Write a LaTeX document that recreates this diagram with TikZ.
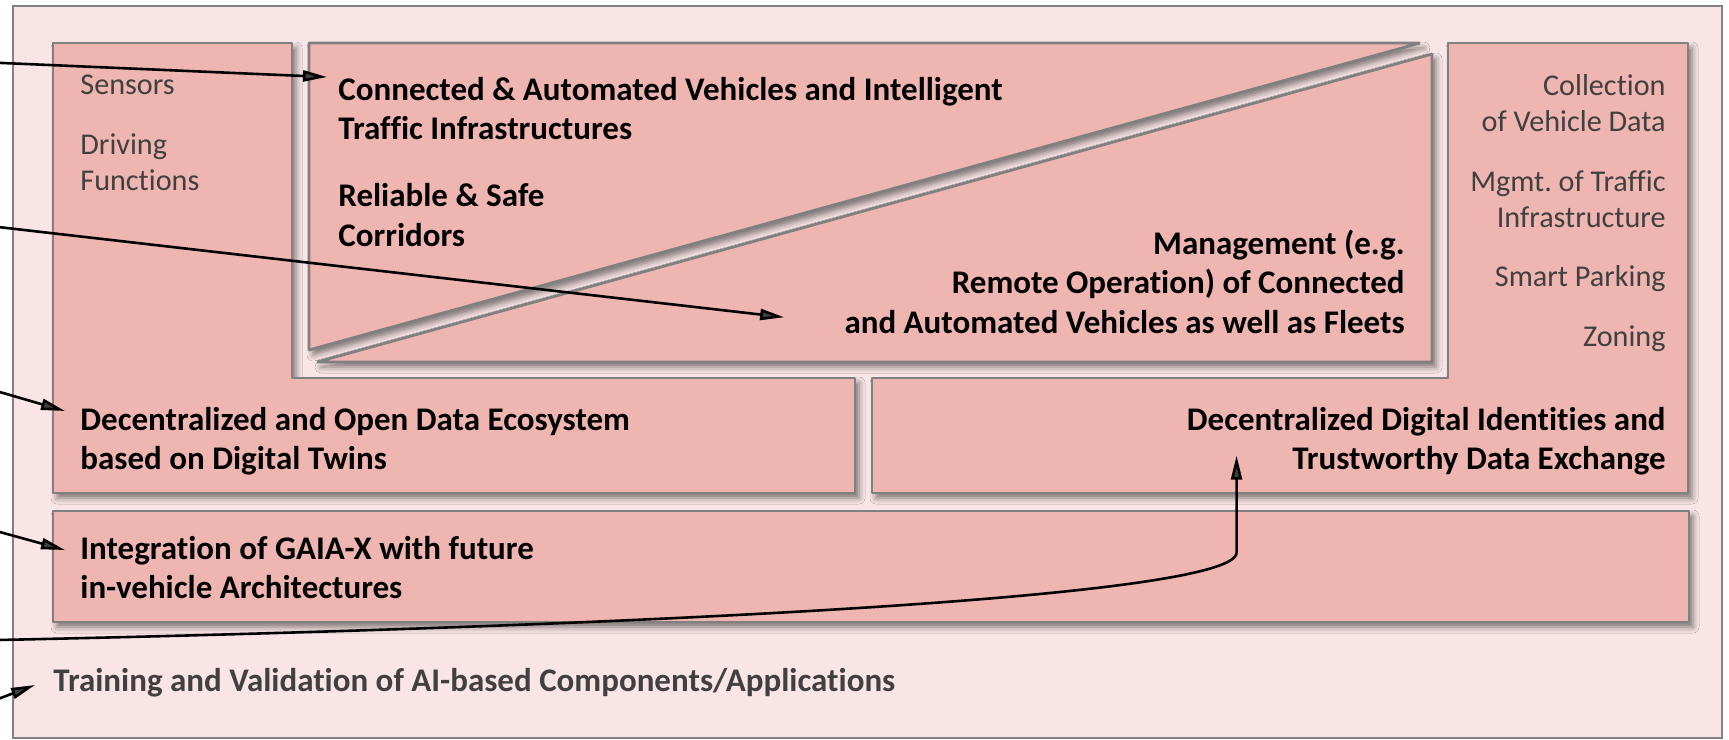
\documentclass[tikz,border=0pt]{standalone}
\usepackage{fontspec}
\setmainfont[Ligatures=NoCommon]{Carlito}
\usetikzlibrary{arrows.meta,shadows.blur,calc}
\definecolor{bgpink}{RGB}{249,229,229}
\definecolor{boxpink}{RGB}{238,181,177}
\definecolor{edgegray}{RGB}{128,128,128}
\definecolor{txtgray}{RGB}{64,64,64}
\frenchspacing
\tikzset{
  panel/.style={fill=boxpink, draw=edgegray, line width=1.4pt, line join=bevel,
    blur shadow={shadow xshift=2pt, shadow yshift=-2.5pt, shadow blur radius=3pt, shadow opacity=50}},
  graytxt/.style={inner sep=0pt, text=txtgray, font=\fontsize{15.1}{18}\selectfont},
  boldtxt/.style={inner sep=0pt, text=black, font=\bfseries\fontsize{16.5}{19.8}\selectfont},
  traintxt/.style={inner sep=0pt, text=txtgray, font=\bfseries\fontsize{16.5}{19}\selectfont},
  arr/.style={line width=1.3pt, -{Triangle[length=12pt,width=5.5pt]}},
}
\begin{document}
\begin{tikzpicture}[x=0.5pt,y=-0.5pt]
\useasboundingbox (0,0) rectangle (1729,739);
\fill[white] (0,0) rectangle (1729,739);
\draw[fill=bgpink, draw=edgegray, line width=1pt] (13,6) rectangle (1722,738);
% panels
\draw[panel] (53,43) -- (292,43) -- (292,378) -- (855,378) -- (855,493) -- (53,493) -- cycle;
\draw[panel] (1448,43) -- (1688,43) -- (1688,493) -- (872,493) -- (872,378) -- (1448,378) -- cycle;
\draw[panel] (309,43) -- (1420,43) -- (309,350) -- cycle;
\draw[panel] (317,362) -- (1432,54) -- (1432,362) -- cycle;
\draw[panel] (53,511) rectangle (1689,622);
% texts
\node[graytxt, anchor=north west, align=left] (sens) at (80,75) {Sensors};
\node[graytxt, anchor=north west, align=left] (drv) at (80,133.5) {Driving\\Functions};
\node[boldtxt, anchor=north west, align=left] (cav) at (338,76.5) {Connected \& Automated Vehicles and Intelligent\\Traffic Infrastructures};
\node[boldtxt, anchor=north west, align=left] (rsc) at (338,183) {Reliable \& Safe\\Corridors};
\node[boldtxt, anchor=north east, align=right] (mgmt) at (1405,229.5) {Management (e.g.\\Remote Operation) of Connected\\and Automated Vehicles as well as Fleets};
\node[graytxt, anchor=north east, align=right] (coll) at (1666,74.5) {Collection\\of Vehicle Data};
\node[graytxt, anchor=north east, align=right] (mtraf) at (1666,170.5) {Mgmt. of Traffic\\Infrastructure};
\node[graytxt, anchor=north east, align=right] (park) at (1666,265.5) {Smart Parking};
\node[graytxt, anchor=north east, align=right] (zon) at (1666,325) {Zoning};
\node[boldtxt, anchor=north west, align=left] (deo) at (80,406.5) {Decentralized and Open Data Ecosystem\\based on Digital Twins};
\node[boldtxt, anchor=north east, align=right] (ddi) at (1666,406.5) {Decentralized Digital Identities and\\Trustworthy Data Exchange};
\node[boldtxt, anchor=north west, align=left] (gaia) at (80,535.5) {Integration of GAIA-X with future\\in-vehicle Architectures};
\node[traintxt, anchor=west] (train) at (53,683) {Training and Validation of AI-based Components/Applications};
% arrow origins
\coordinate (o1) at (-2,62.8);
\coordinate (o2) at (-2,227);
\coordinate (o3) at (-2,391.5);
\coordinate (o4) at (-2,531.5);
\coordinate (o5) at (-2,640);
\coordinate (o6) at (-2,699);
% arrows
\draw[arr] (o1) -- ($(cav.north west)+(-11,0.5)$);
\draw[arr] (o2) -- ($(mgmt.south west)+(-60,-17)$);
\draw[arr] (o3) -- ($(deo.north west)+(-15,4.5)$);
\draw[arr] (o4) -- ($(gaia.north west)+(-15,14.5)$);
\coordinate (bend) at ($(ddi.south west)+(50,77)$);
\draw[arr] (o5) .. controls (700,625) and (bend |- 0,595) .. (bend) -- ($(ddi.south west)+(50,-20)$);
\draw[arr] (o6) -- ($(train.west)+(-18,2)$);
\end{tikzpicture}
\end{document}
